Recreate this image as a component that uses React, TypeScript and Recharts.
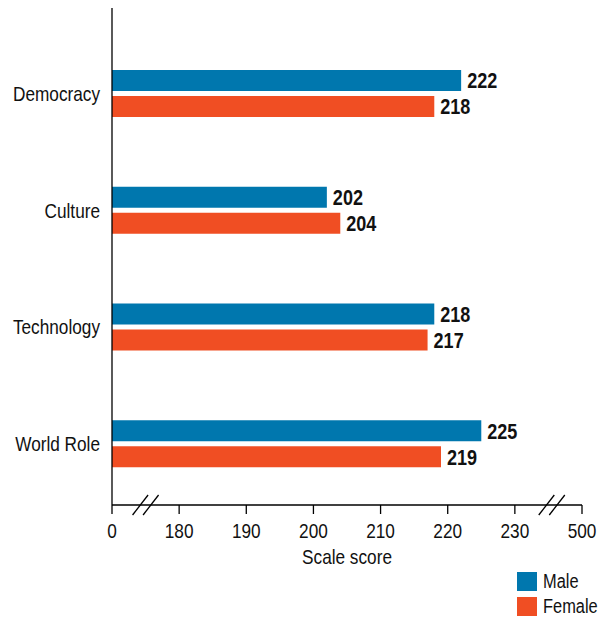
import { BarChart, Bar, XAxis, YAxis, LabelList } from 'recharts'

const categories = ['Democracy', 'Culture', 'Technology', 'World Role']
const maleScores = [222, 202, 218, 225]
const femaleScores = [218, 204, 217, 219]
const seriesNames = ['Male', 'Female']
const seriesColors = ['#0077ae', '#f04e23']
// axis is broken: real scale runs 180..230, the ends stand for 0 and 500
const xTickValues = [170, 180, 190, 200, 210, 220, 230, 240]
const xTickLabels = ['0', '180', '190', '200', '210', '220', '230', '500']
const breakValues = [175, 235.5]

const font = "'Liberation Sans', Arial, sans-serif"
const narrow = 0.82 // squeeze Liberation Sans to look like a condensed face

const data = categories.map((name, i) => ({ name, male: maleScores[i], female: femaleScores[i] }))

function NarrowText({ x, y, anchor, dy, size, bold, children }: any) {
  return (
    <text
      transform={`translate(${x},${y}) scale(${narrow},1)`}
      dy={dy}
      textAnchor={anchor}
      fontSize={size}
      fontWeight={bold ? 'bold' : 'normal'}
      fontFamily={font}
      fill="#111"
    >
      {children}
    </text>
  )
}

function XTick(props: any) {
  const { x, y, payload } = props
  const v = payload.value
  const axisY = y - 18
  if (breakValues.includes(v)) {
    return (
      <g stroke="#000" strokeWidth={1.3}>
        <line x1={x - 13} y1={axisY + 10} x2={x + 2.5} y2={axisY - 10} />
        <line x1={x - 2.5} y1={axisY + 10} x2={x + 13} y2={axisY - 10} />
      </g>
    )
  }
  const idx = xTickValues.indexOf(v)
  return (
    <g>
      <line x1={x} y1={axisY} x2={x} y2={axisY + 9} stroke="#000" strokeWidth={1.3} />
      <NarrowText x={x} y={y} dy="0.71em" anchor="middle" size={21}>
        {xTickLabels[idx]}
      </NarrowText>
    </g>
  )
}

function YTick(props: any) {
  const { x, y, payload } = props
  return (
    <NarrowText x={x} y={y} dy="0.36em" anchor="end" size={21}>
      {payload.value}
    </NarrowText>
  )
}

function ValueLabel(props: any) {
  const { x, y, width, height, value } = props
  return (
    <NarrowText x={x + width + 6} y={y + height / 2} dy="0.36em" anchor="start" size={22} bold>
      {value}
    </NarrowText>
  )
}

function AxisTitle(props: any) {
  const { viewBox } = props
  return (
    <NarrowText x={viewBox.x + viewBox.width / 2} y={viewBox.y + viewBox.height - 1} anchor="middle" size={21}>
      Scale score
    </NarrowText>
  )
}

export default function App() {
  return (
    <div style={{ position: 'absolute', left: 0, top: 0, width: 607, height: 618, background: '#fff', fontFamily: font }}>
      <BarChart
        width={607}
        height={618}
        data={data}
        layout="vertical"
        margin={{ top: 8, right: 25, left: 0, bottom: 53 }}
        barSize={21}
        barGap={5}
      >
        <XAxis
          type="number"
          domain={[170, 240]}
          ticks={[...xTickValues, ...breakValues].sort((a, b) => a - b)}
          interval={0}
          allowDataOverflow
          height={60}
          tickSize={9}
          tickMargin={9}
          tickLine={false}
          axisLine={{ stroke: '#000', strokeWidth: 1.3 }}
          tick={<XTick />}
          label={AxisTitle}
        />
        <YAxis
          type="category"
          dataKey="name"
          width={112}
          interval={0}
          padding={{ top: 27, bottom: 3 }}
          tickLine={false}
          tickSize={6}
          tickMargin={6}
          axisLine={{ stroke: '#000', strokeWidth: 1.3 }}
          tick={<YTick />}
        />
        <Bar dataKey="male" name={seriesNames[0]} fill={seriesColors[0]} isAnimationActive={false}>
          <LabelList dataKey="male" content={ValueLabel} />
        </Bar>
        <Bar dataKey="female" name={seriesNames[1]} fill={seriesColors[1]} isAnimationActive={false}>
          <LabelList dataKey="female" content={ValueLabel} />
        </Bar>
      </BarChart>
      <div style={{ position: 'absolute', left: 517, top: 572 }}>
        {seriesNames.map((n, i) => (
          <div key={n} style={{ display: 'flex', alignItems: 'center', height: 19, marginBottom: 6 }}>
            <div style={{ width: 20, height: 19, background: seriesColors[i], marginRight: 6 }} />
            <span
              style={{
                fontSize: 20,
                color: '#111',
                lineHeight: '19px',
                display: 'inline-block',
                transform: `scaleX(${narrow})`,
                transformOrigin: 'left center',
              }}
            >
              {n}
            </span>
          </div>
        ))}
      </div>
    </div>
  )
}
